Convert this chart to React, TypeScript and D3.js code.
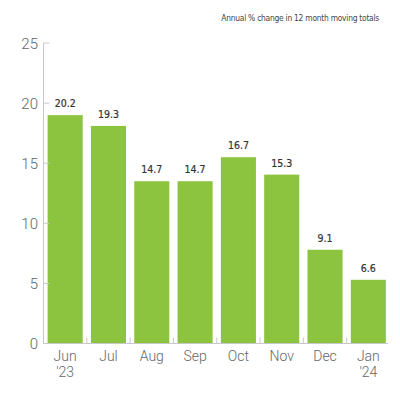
import { useEffect, useRef } from 'react'
import * as d3 from 'd3'

const months = ['Jun', 'Jul', 'Aug', 'Sep', 'Oct', 'Nov', 'Dec', 'Jan']
const years = ["'23", '', '', '', '', '', '', "'24"]
// bar heights as drawn (they sit a bit below the printed numbers)
const values = [19.0, 18.1, 13.5, 13.5, 15.5, 14.05, 7.8, 5.3]
const valueLabels = ['20.2', '19.3', '14.7', '14.7', '16.7', '15.3', '9.1', '6.6']
const yTicks = [0, 5, 10, 15, 20, 25]
const title = 'Annual % change in 12 month moving totals'

export default function App() {
  const svgRef = useRef<SVGSVGElement>(null)

  useEffect(() => {
    if (!svgRef.current) return
    const width = 400
    const height = 400
    const left = 43.5
    const right = 390
    const bottom = 343.5
    const top = 43

    const svg = d3.select(svgRef.current)
    svg.selectAll('*').remove()
    svg.attr('width', width).attr('height', height)

    svg.append('rect').attr('width', width).attr('height', height).attr('fill', '#fff')

    const x = d3.scaleBand<string>().domain(months).range([left, right]).paddingInner(0.19).paddingOuter(0.095)
    const y = d3.scaleLinear().domain([0, 25]).range([bottom, top])

    const tickFont = 'Roboto, "Liberation Sans", sans-serif'
    const numFont = '"DejaVu Sans Condensed", "DejaVu Sans", sans-serif'

    // Title
    svg.append('text')
      .attr('x', 379).attr('y', 21)
      .attr('text-anchor', 'end')
      .attr('font-family', numFont).attr('font-stretch', 'condensed').attr('font-size', '8.4px')
      .attr('letter-spacing', '-0.25px')
      .attr('fill', '#444')
      .text(title)

    // Bars
    svg.append('g')
      .selectAll('rect')
      .data(values)
      .enter().append('rect')
      .attr('x', (_, i) => x(months[i])!)
      .attr('width', x.bandwidth())
      .attr('y', d => y(d))
      .attr('height', d => bottom - y(d))
      .attr('fill', '#8cc43f')

    // Value labels
    svg.append('g')
      .selectAll('text')
      .data(values)
      .enter().append('text')
      .attr('x', (_, i) => x(months[i])! + x.bandwidth() / 2)
      .attr('y', d => y(d) - 8)
      .attr('text-anchor', 'middle')
      .attr('font-family', numFont).attr('font-stretch', 'condensed').attr('font-size', '10.5px')
      .attr('fill', '#333').attr('stroke', '#333').attr('stroke-width', 0.2)
      .text((_, i) => valueLabels[i])

    // Y axis
    svg.append('line')
      .attr('x1', left).attr('x2', left).attr('y1', y(25)).attr('y2', bottom)
      .attr('stroke', '#c8c8c8').attr('stroke-width', 1)
    const yg = svg.append('g')
    yg.selectAll('line')
      .data(yTicks)
      .enter().append('line')
      .attr('x1', left).attr('x2', left + 6)
      .attr('y1', d => y(d)).attr('y2', d => y(d))
      .attr('stroke', '#c8c8c8')
    yg.selectAll('text')
      .data(yTicks)
      .enter().append('text')
      .attr('x', 38).attr('y', d => y(d) + 5.5)
      .attr('text-anchor', 'end')
      .attr('font-family', tickFont).attr('font-weight', 300).attr('font-size', '15px')
      .attr('fill', '#666')
      .text(d => d)

    // X axis
    svg.append('line')
      .attr('x1', left).attr('x2', 388).attr('y1', bottom).attr('y2', bottom)
      .attr('stroke', '#c8c8c8').attr('stroke-width', 1)
    const gap = x.step() - x.bandwidth()
    svg.append('g')
      .selectAll('line')
      .data(months.slice(1))
      .enter().append('line')
      .attr('x1', d => x(d)! - gap / 2).attr('x2', d => x(d)! - gap / 2)
      .attr('y1', bottom - 6).attr('y2', bottom)
      .attr('stroke', '#c8c8c8')

    const xl = svg.append('g')
    xl.selectAll('text.m')
      .data(months)
      .enter().append('text')
      .attr('class', 'm')
      .attr('x', d => x(d)! + x.bandwidth() / 2)
      .attr('y', 361)
      .attr('text-anchor', 'middle')
      .attr('font-family', tickFont).attr('font-weight', 300).attr('font-size', '14px')
      .attr('fill', '#666')
      .text(d => d)
    xl.selectAll('text.yr')
      .data(years)
      .enter().append('text')
      .attr('class', 'yr')
      .attr('x', (_, i) => x(months[i])! + x.bandwidth() / 2)
      .attr('y', 377)
      .attr('text-anchor', 'middle')
      .attr('font-family', tickFont).attr('font-weight', 300).attr('font-size', '14px')
      .attr('fill', '#666')
      .text(d => d)
  }, [])

  return (
    <div style={{ position: 'absolute', left: 0, top: 0 }}>
      <svg ref={svgRef} style={{ display: 'block' }} />
    </div>
  )
}
